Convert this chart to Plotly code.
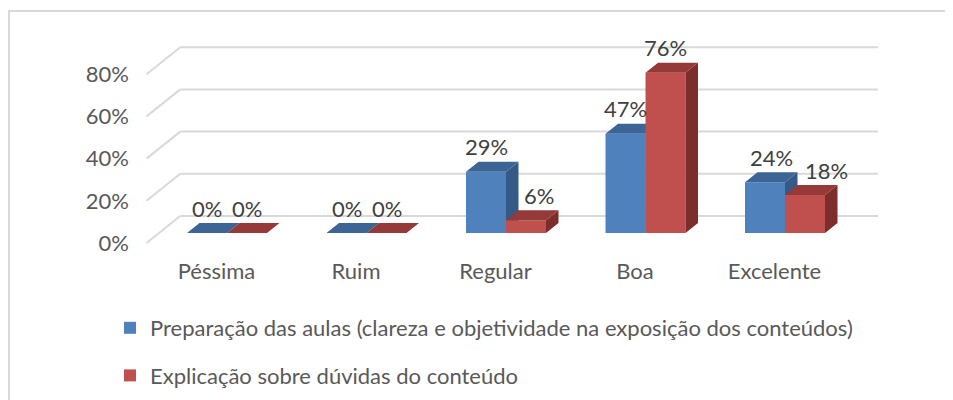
import plotly.graph_objects as go

# ---------------- data ----------------
categories = ["Péssima", "Ruim", "Regular", "Boa", "Excelente"]
series_names = [
    "Preparação das aulas (clareza e objetividade na exposição dos conteúdos)",
    "Explicação sobre dúvidas do conteúdo",
]
preparacao = [0, 0, 29, 47, 24]
explicacao = [0, 0, 6, 76, 18]
y_tick_values = [0, 20, 40, 60, 80]
y_tick_labels = ["0%", "20%", "40%", "60%", "80%"]

# ---------------- styling / geometry (reference pixel coordinates) ----------------
OFF = 8                                  # page body margin
W, H = 953 - OFF, 400 - OFF              # figure size
L, R, T, B = 130, 900, 30, 256           # plot area in page px
CAT_PX = 139.5                           # px per category unit
VAL_PX = 2.11                            # px per percent
X0_PX = 227                              # px of first category centre (front plane)
Y0_PX = 233                              # px of 0% (front plane of bars)
BAR_PX = 40
DEPTH_PX = 10                            # bar depth (vertical px)
SLANT = 1.25                             # horizontal px per vertical px of depth
WALL_BACK_PX = 17                        # back wall behind bar front plane
FLOOR_FRONT_PX = 10                      # floor front before bar front plane
WALL_LEFT_BACK_PX = 180.25
WALL_LEFT_FRONT_PX = 146.5
WALL_RIGHT_PX = 878
LABEL_GAP_PX = 15
CAT_LABEL_SHIFT_PX = -10.5
label_nudge_px = [[0, 0, 0, 0, 6.5], [0, 0, 12.5, 0, 21.5]]

FONT = "Lato"
FS = 22
AXIS_COLOR = "#595959"
LABEL_COLOR = "#404040"
GRID_COLOR = "#D9D9D9"
colors = {
    0: dict(front="#4F81BD", top="#3C6596", side="#345A85"),
    1: dict(front="#C0504D", top="#953A38", side="#7B2E2C"),
}


def px_to_x(px):
    return (px - X0_PX) / CAT_PX


def dx_units(px):
    return px / CAT_PX


def dy_units(px):
    return px / VAL_PX


x_range = [px_to_x(L), px_to_x(R)]
y_range = [(Y0_PX - B) / VAL_PX, (Y0_PX - T) / VAL_PX]

bw = dx_units(BAR_PX)
ddx = dx_units(DEPTH_PX * SLANT)
ddy = dy_units(DEPTH_PX)

fig = go.Figure()

all_series = [preparacao, explicacao]
axes = [("x", "y"), ("x2", "y2")]
for s, values in enumerate(all_series):
    xa, ya = axes[s]
    offset = -bw if s == 0 else 0.0
    xs = list(range(len(categories)))
    fig.add_trace(go.Bar(
        x=xs, y=values, offset=offset, width=bw,
        marker=dict(color=colors[s]["front"], line=dict(width=0)),
        name=series_names[s], legendgroup=f"g{s}", showlegend=True,
        xaxis=xa, yaxis=ya, hoverinfo="skip",
    ))
    tx, ty, sx, sy = [], [], [], []
    for i, v in enumerate(values):
        x0 = i + offset
        x1 = x0 + bw
        tx += [x0, x1, x1 + ddx, x0 + ddx, x0, None]
        ty += [v, v, v + ddy, v + ddy, v, None]
        sx += [x1, x1, x1 + ddx, x1 + ddx, x1, None]
        sy += [0, v, v + ddy, ddy, 0, None]
    fig.add_trace(go.Scatter(
        x=sx, y=sy, mode="lines", fill="toself", fillcolor=colors[s]["side"],
        line=dict(width=0), showlegend=False, hoverinfo="skip",
        xaxis=xa, yaxis=ya, legendgroup=f"g{s}",
    ))
    fig.add_trace(go.Scatter(
        x=tx, y=ty, mode="lines", fill="toself", fillcolor=colors[s]["top"],
        line=dict(width=0), showlegend=False, hoverinfo="skip",
        xaxis=xa, yaxis=ya, legendgroup=f"g{s}",
    ))
    for i, v in enumerate(values):
        cx = i + offset + bw / 2 + dx_units(label_nudge_px[s][i])
        cy = v + ddy + dy_units(LABEL_GAP_PX)
        fig.add_annotation(
            x=cx, y=cy, xref="x", yref="y", text=f"{v}%", showarrow=False,
            xanchor="center", yanchor="middle",
            font=dict(family=FONT, size=FS, color=LABEL_COLOR),
        )

# back wall gridlines + side wall diagonals
xb_left = px_to_x(WALL_LEFT_BACK_PX)
xf_left = px_to_x(WALL_LEFT_FRONT_PX)
xb_right = px_to_x(WALL_RIGHT_PX)
for v in y_tick_values:
    yb = v + dy_units(WALL_BACK_PX)
    yf = v - dy_units(FLOOR_FRONT_PX)
    fig.add_shape(type="line", xref="x", yref="y", x0=xb_left, y0=yb, x1=xb_right, y1=yb,
                  line=dict(color=GRID_COLOR, width=2), layer="below")
    fig.add_shape(type="line", xref="x", yref="y", x0=xb_left, y0=yb, x1=xf_left, y1=yf,
                  line=dict(color=GRID_COLOR, width=2), layer="below")


def paper_x(px):
    return (px - L) / (R - L)


def paper_y(py):
    return (B - py) / (B - T)


fig.add_shape(type="rect", xref="paper", yref="paper",
              x0=paper_x(9), y0=paper_y(440), x1=paper_x(990), y1=paper_y(11),
              line=dict(color=GRID_COLOR, width=2), fillcolor="rgba(0,0,0,0)", layer="below")

axis_common = dict(showgrid=False, zeroline=False, showline=False, fixedrange=True)
fig.update_layout(
    width=W, height=H,
    margin=dict(l=L - OFF, r=W - (R - OFF), t=T - OFF, b=H - (B - OFF), pad=0,
                autoexpand=False),
    paper_bgcolor="white", plot_bgcolor="rgba(0,0,0,0)",
    showlegend=True,
    xaxis=dict(range=x_range, tickmode="array",
               tickvals=[i + dx_units(CAT_LABEL_SHIFT_PX) for i in range(len(categories))],
               ticktext=categories, ticks="", ticklen=0, tickangle=0,
               tickfont=dict(family=FONT, size=FS, color=AXIS_COLOR), **axis_common),
    yaxis=dict(range=y_range, tickmode="array",
               tickvals=[v - dy_units(FLOOR_FRONT_PX) for v in y_tick_values],
               ticktext=y_tick_labels, ticks="",
               tickfont=dict(family=FONT, size=FS, color=AXIS_COLOR), **axis_common),
    xaxis2=dict(range=x_range, overlaying="x", anchor="y2", visible=False, **axis_common),
    yaxis2=dict(range=y_range, overlaying="y", anchor="x2", visible=False, **axis_common),
    legend=dict(xref="container", yref="container", x=(110 - OFF) / W,
                y=1 - (307 - OFF) / H,
                xanchor="left", yanchor="top", orientation="v",
                traceorder="grouped", tracegroupgap=16,
                font=dict(family=FONT, size=FS, color=AXIS_COLOR),
                bgcolor="rgba(0,0,0,0)"),
    barmode="overlay",
)

fig.write_html("out.html")
